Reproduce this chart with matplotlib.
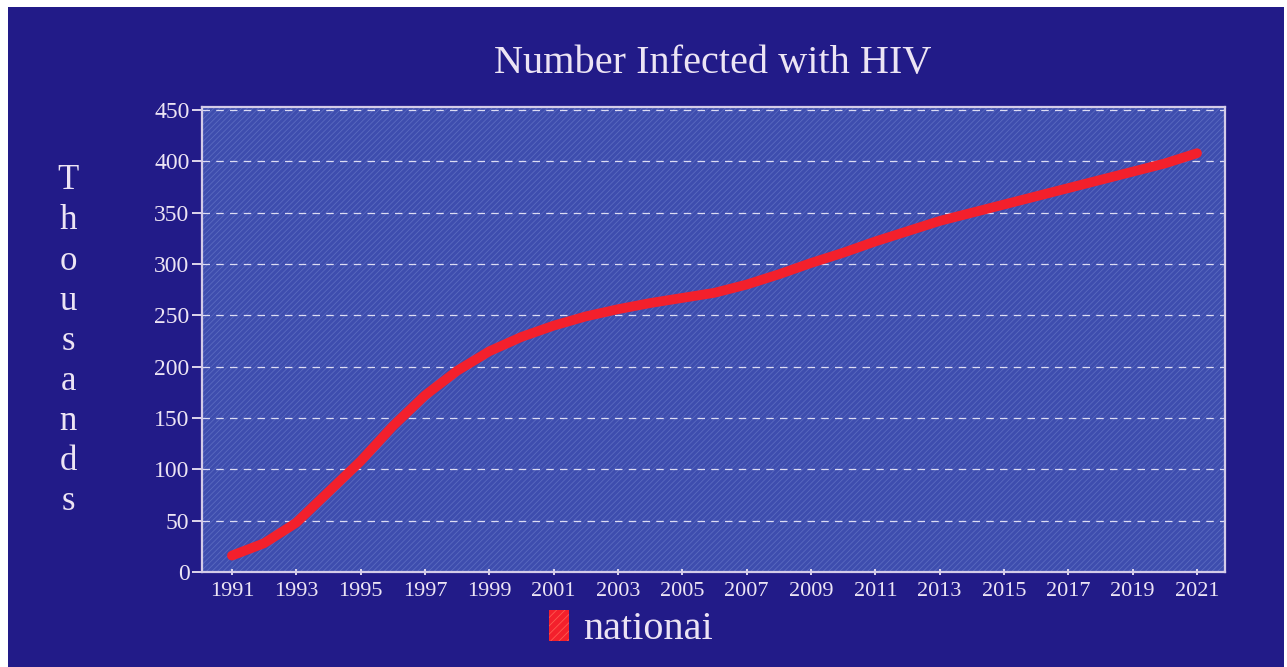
import matplotlib.pyplot as plt
from matplotlib.patches import Rectangle, Patch

years = list(range(1991, 2022))
infected = [16, 28, 48, 78, 108, 142, 172, 196, 215, 229, 240, 249, 256, 262, 267,
            272, 280, 290, 301, 311, 322, 332, 342, 350, 358, 366, 374, 382, 390, 398, 408]
y_ticks = [0, 50, 100, 150, 200, 250, 300, 350, 400, 450]
x_ticks = list(range(1991, 2022, 2))

navy = '#221b88'
panel = '#3e4dae'
pale = '#ece4f4'
serif = ['Liberation Serif', 'DejaVu Serif']

plt.rcParams['font.family'] = serif
plt.rcParams['hatch.linewidth'] = 0.6

W, H = 1287, 667
fig = plt.figure(figsize=(W / 100, H / 100), dpi=100, facecolor='white')
# dark backdrop inside a thin white margin
fig.patches.append(Rectangle((8 / W, 0), 1 - 11 / W, 1 - 7 / H, transform=fig.transFigure,
                             facecolor=navy, edgecolor='none', zorder=-10))

ax = fig.add_axes([202 / W, 1 - 572 / H, 1023 / W, 465 / H])
ax.set_facecolor(panel)
ax.add_patch(Rectangle((0, 0), 1, 1, transform=ax.transAxes, facecolor='none',
                       edgecolor='#5a6ac0', hatch='//////', linewidth=0, zorder=0))

ax.plot(years, infected, color='#f3202c', lw=7, solid_capstyle='round',
        solid_joinstyle='round', zorder=3)

ax.set_xlim(1990.07, 2021.87)
ax.set_ylim(0, 453)
ax.set_xticks(x_ticks)
ax.set_yticks(y_ticks)
ax.yaxis.grid(True, color='#dcdcf4', lw=0.9, linestyle=(0, (6, 5)))
ax.set_axisbelow(True)

for side in ['left', 'bottom', 'top', 'right']:
    ax.spines[side].set_color('#d4cce8')
    ax.spines[side].set_linewidth(1.6)

ax.tick_params(axis='y', colors=pale, labelsize=17, length=7, width=1.3, pad=2)
ax.tick_params(axis='x', colors=pale, labelsize=16, length=5, width=1.3,
               direction='inout', pad=5)

fig.text(713 / W, 1 - 63 / H, 'Number Infected with HIV', color=pale,
         fontsize=29, ha='center', va='center')

# stacked axis caption
for i, ch in enumerate('Thousands'):
    fig.text(68 / W, 1 - (181 + i * 40) / H, ch, color=pale, fontsize=25,
             ha='center', va='center')

handle = Patch(facecolor='#f3202c', edgecolor='#ff5a50', hatch='////', linewidth=0)
leg = fig.legend([handle], ['nationai'], loc='center', frameon=False,
                 bbox_to_anchor=(631 / W, 1 - 629 / H), fontsize=29,
                 handlelength=0.5, handleheight=0.8, handletextpad=0.35,
                 borderpad=0)
for t in leg.get_texts():
    t.set_color(pale)

fig.savefig('out.png', dpi=100, facecolor=fig.get_facecolor())
